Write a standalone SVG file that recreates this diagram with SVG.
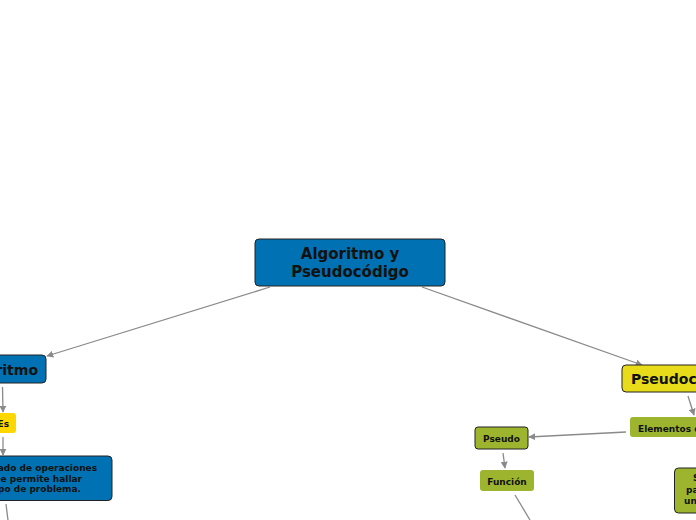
<svg xmlns="http://www.w3.org/2000/svg" width="696" height="520" viewBox="0 0 696 520">
<style>
.t{font-family:"DejaVu Sans",Verdana,sans-serif;font-weight:bold;fill:#111}
.b{stroke:#222;stroke-width:1}
.blue{fill:#0071b3}
.yel{fill:#ffd700}
.yel2{fill:#e8dc1a}
.grn{fill:#9db52e}
.c{fill:none;stroke:#8a8a8a;stroke-width:1.3;marker-end:url(#a)}
</style>
<defs>
<marker id="a" viewBox="0 0 10 10" refX="9" refY="5" markerWidth="7" markerHeight="7" orient="auto" markerUnits="userSpaceOnUse">
<path d="M0,0L10,5L0,10z" fill="#8a8a8a"/>
</marker>
</defs>
<rect width="696" height="520" fill="#fff"/>
<g id="connectors">
<line class="c" x1="270" y1="287" x2="47" y2="356"/>
<line class="c" x1="422" y1="287" x2="642" y2="365"/>
<line class="c" x1="2.5" y1="387" x2="3" y2="412"/>
<line class="c" x1="3" y1="437" x2="3" y2="455"/>
<line fill="none" stroke="#8a8a8a" stroke-width="1.3" x1="6" y1="504" x2="8" y2="520"/>
<line class="c" x1="688" y1="396" x2="694" y2="415"/>
<line class="c" x1="626" y1="432" x2="529" y2="437"/>
<line class="c" x1="503" y1="453" x2="505" y2="468"/>
<line fill="none" stroke="#8a8a8a" stroke-width="1.3" x1="515" y1="495" x2="530" y2="520"/>
</g>
<g id="central">
<rect class="blue b" x="255" y="239" width="190" height="47" rx="4"/>
<text class="t" font-size="15" text-anchor="middle" x="350" y="258.5">Algoritmo y</text>
<text class="t" font-size="15" text-anchor="middle" x="350" y="276.5">Pseudocódigo</text>
</g>
<g id="algoritmo">
<rect class="blue b" x="-50" y="355" width="96" height="28" rx="4"/>
<text class="t" font-size="14" text-anchor="end" x="38" y="375">Algoritmo</text>
</g>
<g id="es">
<rect class="yel" x="-16" y="413" width="32" height="20" rx="3"/>
<text class="t" font-size="9" text-anchor="end" x="9" y="426.5">Es</text>
</g>
<g id="definicion">
<rect class="blue b" x="-120" y="456" width="232" height="44.5" rx="4"/>
<text class="t" font-size="9" text-anchor="end" x="97" y="471">Conjunto ordenado de operaciones</text>
<text class="t" font-size="9" text-anchor="end" x="82" y="481.5">sistemáticas que permite hallar</text>
<text class="t" font-size="9" text-anchor="end" x="81" y="492">la solución de un tipo de problema.</text>
</g>
<g id="pseudocodigo">
<rect class="yel2 b" x="622" y="365" width="132" height="27" rx="4"/>
<text class="t" font-size="14" x="631" y="384">Pseudocódigo</text>
</g>
<g id="elementos">
<rect class="grn" x="630" y="417" width="150" height="20" rx="3"/>
<text class="t" font-size="9" x="638" y="431.5">Elementos del pseudocódigo</text>
</g>
<g id="pseudo">
<rect class="grn b" x="475" y="427" width="53" height="22" rx="3"/>
<text class="t" font-size="9" text-anchor="middle" x="501.5" y="441.5">Pseudo</text>
</g>
<g id="funcion">
<rect class="grn" x="480" y="470" width="54" height="21" rx="3"/>
<text class="t" font-size="9" text-anchor="middle" x="507" y="484.5">Función</text>
</g>
<g id="nodo-derecho">
<rect class="grn b" x="674.5" y="468" width="80" height="45" rx="4"/>
<text class="t" font-size="9" x="693" y="481">Sirve</text>
<text class="t" font-size="9" x="686" y="492.5">para escribir</text>
<text class="t" font-size="9" x="684" y="504">un algoritmo</text>
</g>
</svg>
